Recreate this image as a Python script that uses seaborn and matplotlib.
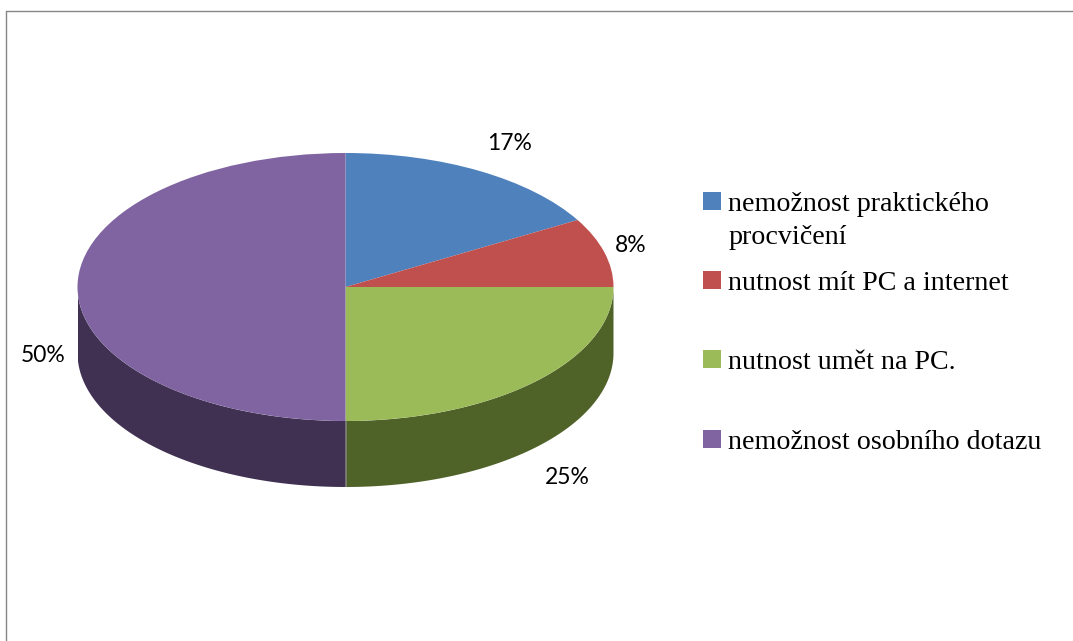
import numpy as np
import seaborn as sns
import matplotlib.pyplot as plt
from matplotlib.lines import Line2D
from matplotlib.patches import Rectangle

# Data
categories = ['nemožnost praktického\nprocvičení', 'nutnost mít PC a internet',
              'nutnost umět na PC.', 'nemožnost osobního dotazu']
values = [2, 1, 3, 6]
percent_labels = ['17%', '8%', '25%', '50%']

top_colors = ['#4F81BD', '#C0504D', '#9BBB59', '#8064A2']
side_colors = ['#2A4466', '#632523', '#4F6228', '#403152']

W, H = 1073, 641
sns.set_theme(style='white')
palette = sns.color_palette(top_colors)

fig = plt.figure(figsize=(W / 100, H / 100), dpi=100)

# pie geometry in pixels
cx, cy, rx, ry, depth = 345.5, 287, 268, 134, 66
depth_units = depth / ry

ax = fig.add_axes([(cx - rx) / W, 1 - (cy + ry + depth) / H, 2 * rx / W, (2 * ry + depth) / H])
ax.pie(values, colors=palette, startangle=90, counterclock=False, radius=1,
       wedgeprops={'linewidth': 0})
ax.set_aspect('auto')
ax.set_xlim(-1, 1)
ax.set_ylim(-1 - depth_units, 1)
ax.axis('off')

# side wall of the pie, only the front half is visible
edges = 90 - np.cumsum([0] + values) / sum(values) * 360
for i in range(len(values)):
    start = min(edges[i], 0)
    end = max(edges[i + 1], -180)
    if start <= end:
        continue
    t = np.radians(np.linspace(start, end, 200))
    xs = np.concatenate([np.cos(t), np.cos(t[::-1])])
    ys = np.concatenate([np.sin(t), np.sin(t[::-1]) - depth_units])
    ax.fill(xs, ys, color=side_colors[i], linewidth=0, zorder=0.5)
ax.plot([0, 0], [-1, -1 - depth_units], color='#8a8a8a', linewidth=0.5, zorder=0.6)

# percentage labels
label_pos = [(510, 144), (631, 246), (567, 478), (43, 356)]
for text, (px, py) in zip(percent_labels, label_pos):
    fig.text(px / W, 1 - py / H, text, ha='center', va='center',
             fontsize=16.5, family='Lato', color='black')

# legend, spacing is uneven so placed by hand
legend_base = [210, 289, 368, 448]
for label, color, base in zip(categories, palette, legend_base):
    fig.add_artist(Rectangle((703 / W, 1 - base / H), 18 / W, 18 / H, color=color,
                             linewidth=0, transform=fig.transFigure))
    first_line_extra = 32.5 * label.count('\n')
    fig.text(728.5 / W, 1 - (base + 1 + first_line_extra) / H, label, ha='left', va='baseline',
             fontsize=20.2, family='Liberation Serif', color='black', linespacing=1.41)

# chart frame, open at right and bottom
frame = '#868686'
fig.add_artist(Line2D([6 / W, 1], [1 - 11 / H, 1 - 11 / H], color=frame, linewidth=1))
fig.add_artist(Line2D([6 / W, 6 / W], [1 - 11 / H, 0], color=frame, linewidth=1))

fig.savefig('out.png', dpi=100, facecolor='white')
